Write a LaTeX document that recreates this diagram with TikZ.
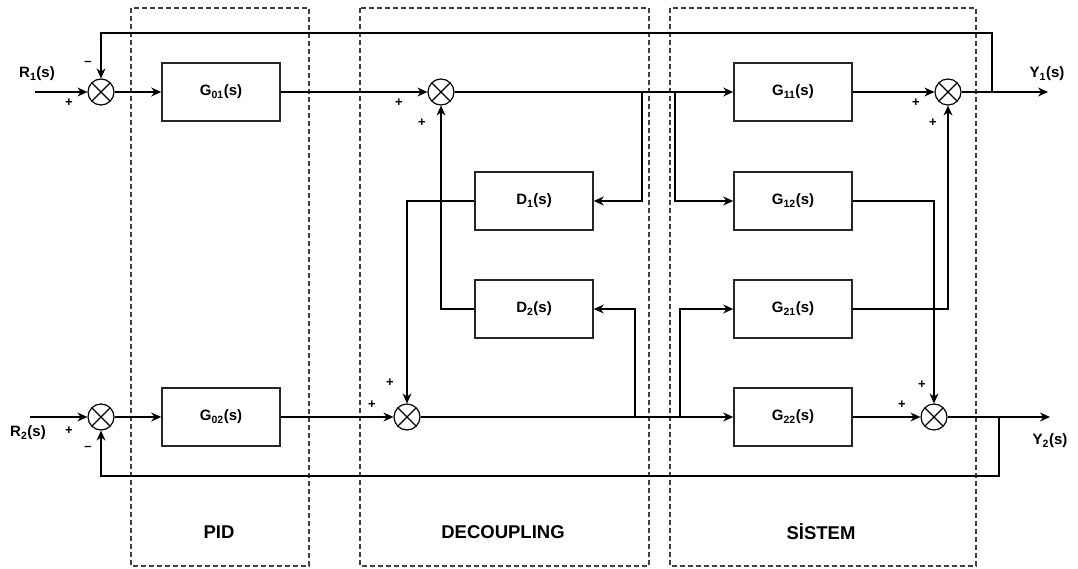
\documentclass[tikz,border=0pt]{standalone}
\usepackage{fontspec}
\setmainfont{Liberation Sans}
\usetikzlibrary{arrows.meta, positioning, calc}

\begin{document}
\begin{tikzpicture}[
  x=1pt, y=-1pt,
  font=\fontsize{15}{17}\selectfont\bfseries,
  block/.style={rectangle, draw=black!85, line width=1.6pt, minimum width=118pt,
                minimum height=58pt, inner sep=0pt},
  sumnode/.style={circle, draw, line width=1.2pt, minimum size=26pt, inner sep=0pt,
                  path picture={\draw[line width=1.2pt]
                    (path picture bounding box.north west) -- (path picture bounding box.south east)
                    (path picture bounding box.north east) -- (path picture bounding box.south west);}},
  group/.style={draw=black!75, line width=1.5pt, dash pattern=on 5pt off 3pt},
  sign/.style={font=\fontsize{13}{15}\selectfont\bfseries, inner sep=0pt},
  grouplabel/.style={font=\fontsize{18.5}{20}\selectfont\bfseries},
  arr/.style={-{Stealth[length=10pt, width=9pt]}, line width=1.2pt}
]
  \useasboundingbox (0,0) rectangle (1078,569);

  % dashed groups
  \draw[group] (131,8) rectangle (309,566);
  \draw[group] (360,8) rectangle (649,566);
  \draw[group] (670,8) rectangle (976,566);
  \node[grouplabel] (lpid) at (219,532) {PID};
  \node[grouplabel] (ldec) at (503,532) {DECOUPLING};
  \node[grouplabel] (lsys) at (821,532) {S\.{I}STEM};

  % junctions
  \node[sumnode] (sumA) at (101,92) {};
  \node[sumnode] (sumB) at (101,417) {};
  \node[sumnode] (sumC) at (441,92) {};
  \node[sumnode] (sumD) at (407,417) {};
  \node[sumnode] (sumE) at (948,92) {};
  \node[sumnode] (sumF) at (934,417) {};

  % blocks
  \node[block] (pidA) at (221,92) {G\textsubscript{01}(s)};
  \node[block] (pidB) at (221,417) {G\textsubscript{02}(s)};
  \node[block] (decA) at (534,201) {D\textsubscript{1}(s)};
  \node[block] (decB) at (534,309) {D\textsubscript{2}(s)};
  \node[block] (g11) at (793,92) {G\textsubscript{11}(s)};
  \node[block] (g12) at (793,201) {G\textsubscript{12}(s)};
  \node[block] (g21) at (793,309) {G\textsubscript{21}(s)};
  \node[block] (g22) at (793,417) {G\textsubscript{22}(s)};

  % inputs and outputs
  \coordinate (inA) at (35,92);
  \coordinate (inB) at (30,417);
  \coordinate (outA) at (1048,92);
  \coordinate (outB) at (1050,417);
  \node (lr1) at (37,74) {R\textsubscript{1}(s)};
  \node (lr2) at (28,433) {R\textsubscript{2}(s)};
  \node (ly1) at (1047,74) {Y\textsubscript{1}(s)};
  \node (ly2) at (1050,441) {Y\textsubscript{2}(s)};

  % branch points
  \coordinate (brA) at (642,92);
  \coordinate (brB) at (675,92);
  \coordinate (brC) at (635,417);
  \coordinate (brD) at (680,417);
  \coordinate (brE) at (992,92);
  \coordinate (brF) at (999,417);

  % forward paths
  \draw[arr] (inA) -- (sumA);
  \draw[arr] (inB) -- (sumB);
  \draw[arr] (sumA) -- (pidA);
  \draw[arr] (sumB) -- (pidB);
  \draw[arr] (pidA) -- (sumC);
  \draw[arr] (pidB) -- (sumD);
  \draw[arr] (sumC) -- (g11);
  \draw[arr] (sumD) -- (g22);
  \draw[arr] (g11) -- (sumE);
  \draw[arr] (g22) -- (sumF);
  \draw[arr] (sumE) -- (outA);
  \draw[arr] (sumF) -- (outB);

  % decoupling loops
  \draw[arr] (brA) |- (decA.east);
  \draw[arr] (brC) |- (decB.east);
  \draw[arr] (decA.west) -| (sumD.north);
  \draw[arr] (decB.west) -| (sumC.south);

  % cross couplings
  \draw[arr] (brB) |- (g12.west);
  \draw[arr] (brD) |- (g21.west);
  \draw[arr] (g12.east) -| (sumF.north);
  \draw[arr] (g21.east) -| (sumE.south);

  % feedback
  \draw[arr] (brE) -- (brE |- 0,33) -| (sumA.north);
  \draw[arr] (brF) -- (brF |- 0,476) -| (sumB.south);

  % signs
  \node[sign] (sa1) at (88,63) {--};
  \node[sign] (sa2) at (69,103) {+};
  \node[sign] (sb1) at (69,431) {+};
  \node[sign] (sb2) at (88,448) {--};
  \node[sign] (sc1) at (399,103) {+};
  \node[sign] (sc2) at (422,123) {+};
  \node[sign] (sd1) at (390,383) {+};
  \node[sign] (sd2) at (372,405) {+};
  \node[sign] (se1) at (916,103) {+};
  \node[sign] (se2) at (933,123) {+};
  \node[sign] (sf1) at (922,385) {+};
  \node[sign] (sf2) at (902,405) {+};
\end{tikzpicture}
\end{document}
